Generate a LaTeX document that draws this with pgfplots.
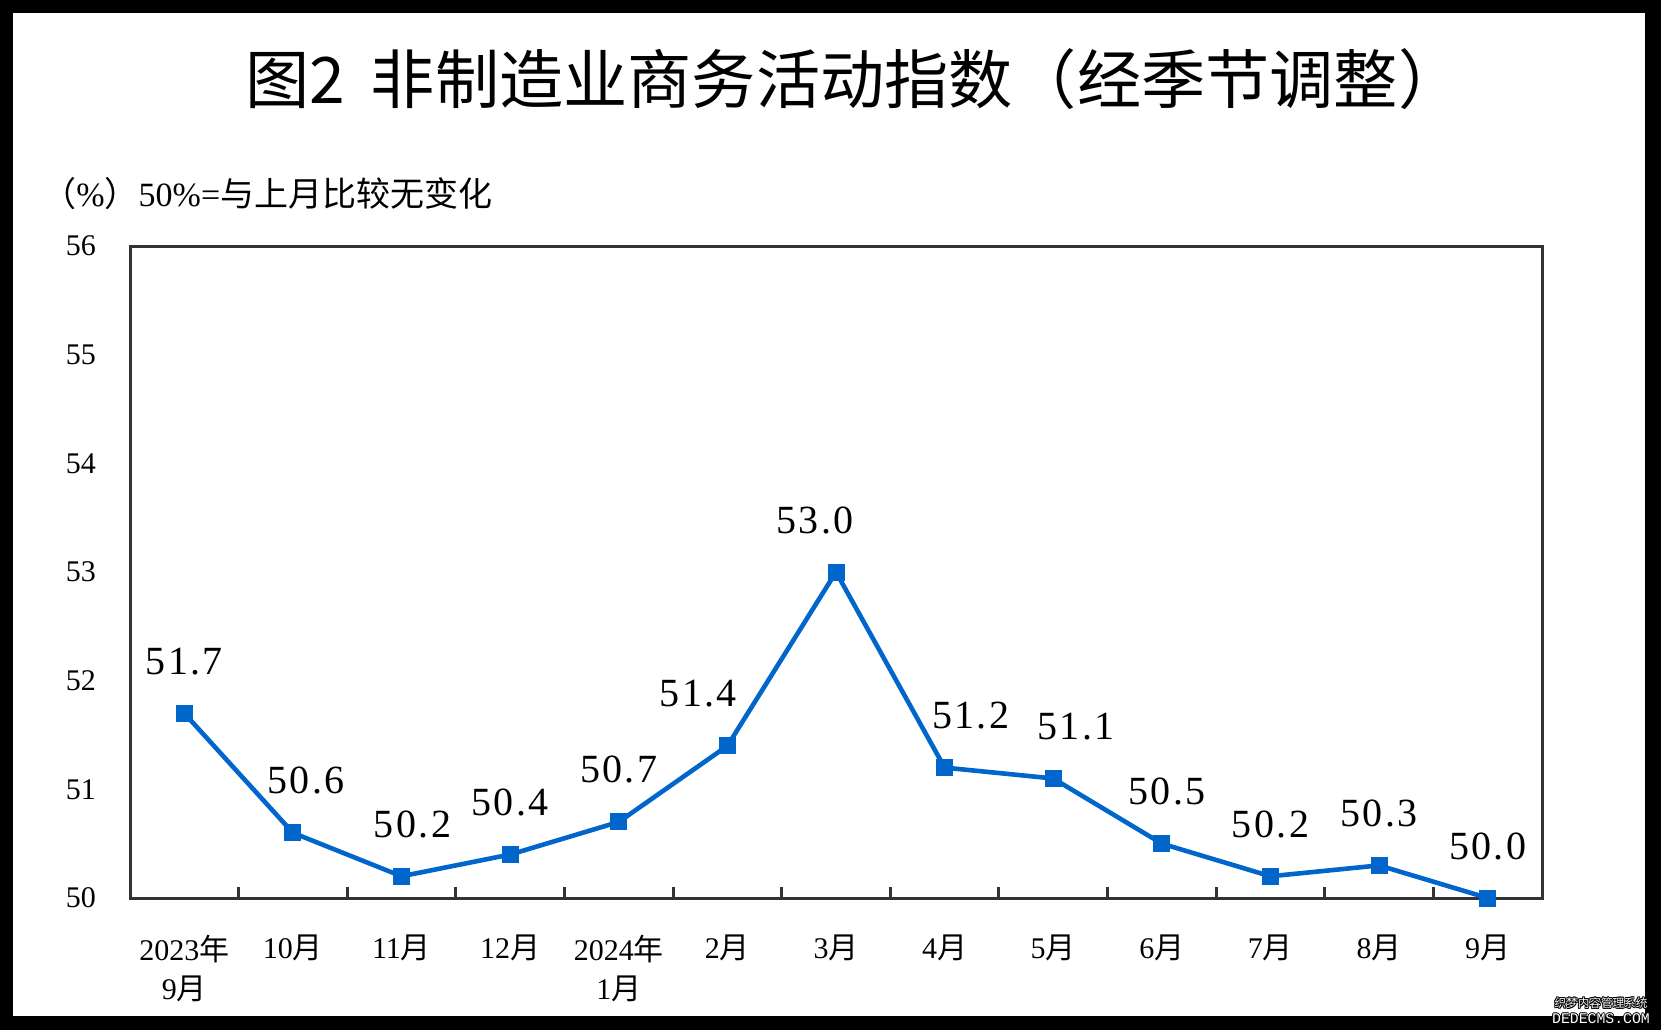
\documentclass[border=0pt]{standalone}
\usepackage{pgfplots}
\pgfplotsset{compat=1.18}
\usepackage{pgfplotstable}
\usepackage{fontspec}
\setmainfont{Liberation Serif}
\newfontfamily\cjk{Noto Sans CJK SC}
\newfontfamily\labfont[LetterSpace=6]{Liberation Serif}
\newfontfamily\wmono{Liberation Mono}
\definecolor{lineblue}{RGB}{0,102,204}
\definecolor{axgray}{RGB}{51,51,51}
\pgfplotstableread{
x y dx lab
0 51.7 0 51.7
1 50.6 6.5 50.6
2 50.2 5.5 50.2
3 50.4 0 50.4
4 50.7 0 50.7
5 51.4 -14.5 51.4
6 53.0 -10.5 53.0
7 51.2 13 51.2
8 51.1 11.5 51.1
9 50.5 2.5 50.5
10 50.2 0 50.2
11 50.3 0 50.3
12 50.0 0 50.0
}\pmi
\newcommand\outlined[3]{% position, font, text
  \foreach \ox/\oy in {-0.45/0,0.45/0,0/-0.45,0/0.45,-0.35/-0.35,0.35/0.35,-0.35/0.35,0.35/-0.35}{
    \node[font=#2, inner sep=0, text=black] at ($(#1)+(\ox,\oy)$) {#3};}
  \node[font=#2, inner sep=0, text=white] at (#1) {#3};}
\usetikzlibrary{calc}
\begin{document}
\begin{tikzpicture}[x=1pt,y=1pt]
\fill[black] (0,0) rectangle (830.5,515);
\fill[white] (6.5,7) rectangle (822.5,508.5);
\useasboundingbox (0,0) rectangle (830.5,515);
\node[font=\cjk\fontsize{32.1}{36}\selectfont, inner sep=0] at (427,475.5) {图2\hspace{0.4em}非制造业商务活动指数（经季节调整）};
\node[anchor=west, font=\fontsize{17}{20}\selectfont, inner sep=0] at (21,418) {{\cjk （}\%{\cjk ）}50\%={\cjk 与上月比较无变化}};
\begin{axis}[
  at={(65pt,66pt)}, anchor=south west,
  scale only axis, width=706pt, height=326pt,
  xmin=-0.5, xmax=12.5, ymin=50, ymax=56,
  clip=false,
  /pgf/number format/assume math mode=true,
  axis line style={draw=axgray, line width=1.5pt},
  ytick={50,51,...,56},
  ytick style={draw=none},
  yticklabel style={font=\fontsize{15}{18}\selectfont, xshift=-13.5pt},
  xtick={0,1,...,12},
  xticklabels={{2023{\cjk 年}\\9{\cjk 月}},10{\cjk 月},11{\cjk 月},12{\cjk 月},{2024{\cjk 年}\\1{\cjk 月}},2{\cjk 月},3{\cjk 月},4{\cjk 月},5{\cjk 月},6{\cjk 月},7{\cjk 月},8{\cjk 月},9{\cjk 月}},
  xticklabel style={font=\fontsize{15}{19.5}\selectfont, align=center, anchor=north, yshift=-15pt},
  minor xtick={0.5,1.5,...,11.5},
  xtick pos=left,
  tick align=inside,
  major tick length=0pt,
  minor tick length=5.5pt,
  minor tick style={draw=axgray, line width=1.5pt},
  major tick style={draw=none},
]
\addplot[color=lineblue, line width=2.3pt, mark=square*, mark size=4pt,
  mark options={fill=lineblue, draw=lineblue, line width=0pt},
  visualization depends on={\thisrow{dx} \as \dx},
  nodes near coords, point meta=explicit symbolic,
  every node near coord/.append style={font=\labfont\fontsize{20}{24}\selectfont, text=black, anchor=center, xshift=\dx pt, yshift=26pt}]
  table[x=x, y=y, meta=lab] {\pmi};
\end{axis}
\outlined{800.5,13.5}{\cjk\fontsize{5.8}{7}\selectfont}{织梦内容管理系统}
\outlined{800.5,5.5}{\wmono\fontsize{7.4}{8}\selectfont}{DEDECMS.COM}
\end{tikzpicture}
\end{document}
